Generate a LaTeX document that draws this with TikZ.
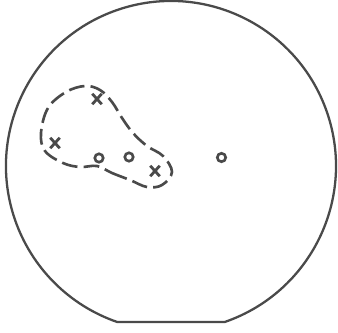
\documentclass[tikz,border=0pt]{standalone}
\usetikzlibrary{shapes.misc}
\definecolor{ink}{HTML}{4A4A4A}
\begin{document}
\begin{tikzpicture}[x=0.02cm,y=-0.02cm,
  wafer/.style={draw=ink, line width=1.3pt},
  region/.style={draw=ink, line width=1.5pt, dash pattern=on 9pt off 3.5pt},
  xmark/.style={cross out, draw=ink, line width=1.6pt, minimum width=3.8pt, minimum height=4.4pt, inner sep=0pt},
  omark/.style={circle, draw=ink, line width=1.5pt, minimum size=4.8pt, inner sep=0pt}]
\useasboundingbox (0,0) rectangle (338,332);
% wafer outline with flat
\draw[wafer] (224.7,322) arc[start angle=71, end angle=-251, radius=165] -- cycle;
% dashed region
\draw[region] plot[smooth cycle, tension=0.6] coordinates {
  (97,166) (112,173) (130,180) (147,187) (162,185) (172,172) (163,156)
  (147,146) (133,133) (122,118) (112,102) (100,90) (85,86) (66,92)
  (48,108) (41,133) (45,151) (63,163) (80,167)};
% marks
\node[xmark] (x1) at (97,99) {};
\node[xmark] (x2) at (55,143) {};
\node[xmark] (x3) at (155,171) {};
\node[omark] (o1) at (99,158) {};
\node[omark] (o2) at (129,157) {};
\node[omark] (o3) at (221.5,157.5) {};
\end{tikzpicture}
\end{document}
